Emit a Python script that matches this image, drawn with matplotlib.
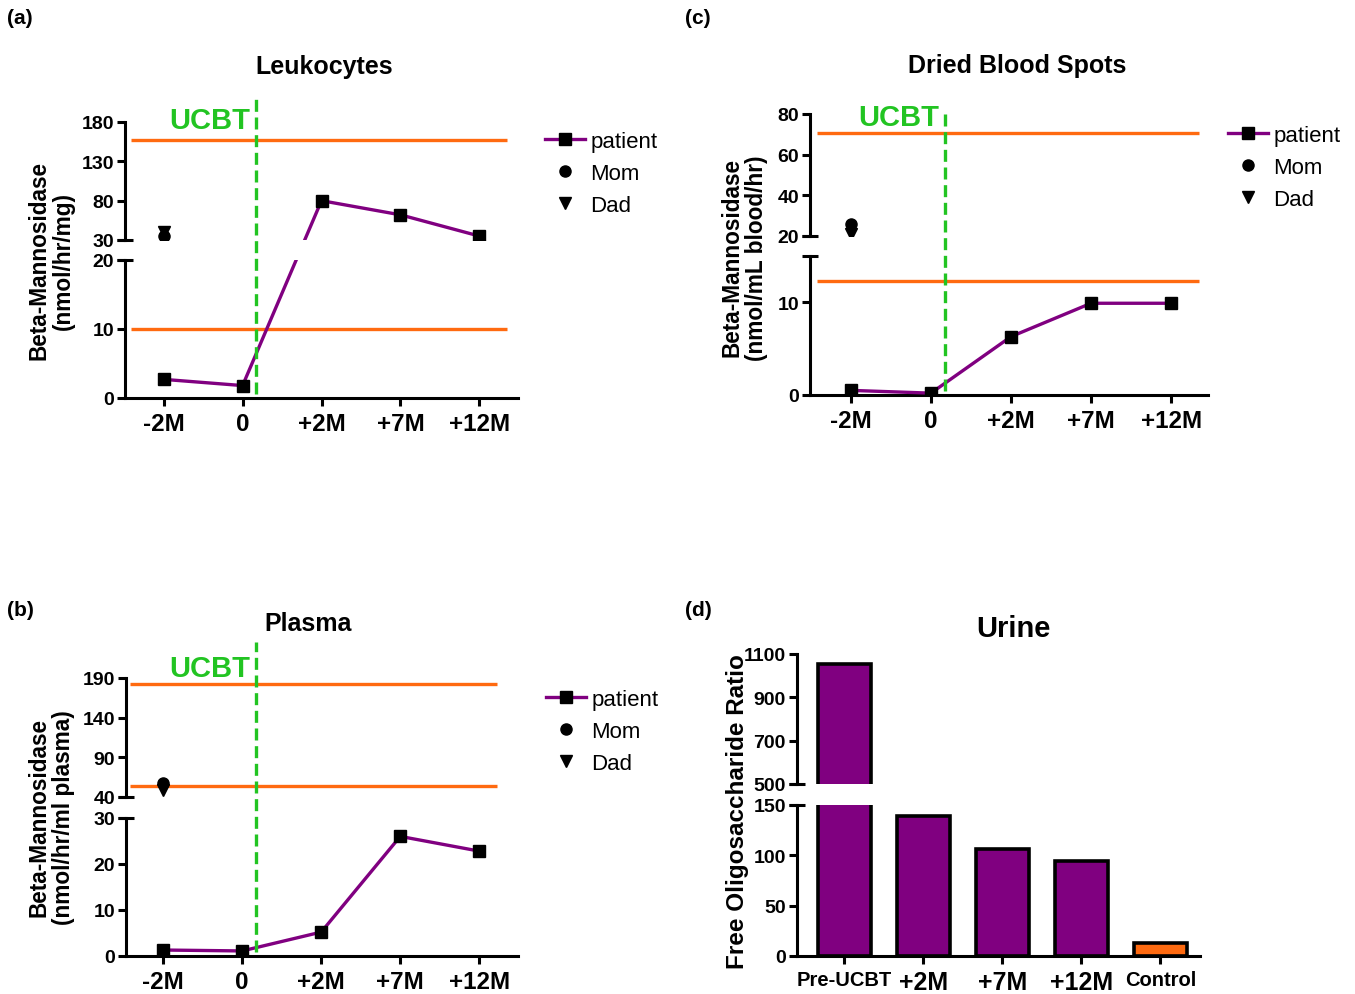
import numpy as np
import matplotlib.pyplot as plt
from matplotlib.lines import Line2D

plt.rcParams['font.family'] = ['Liberation Sans', 'DejaVu Sans']

# data
timepoints = ['-2M', '0', '+2M', '+7M', '+12M']

leuko_patient = [2.7, 1.8, 80, 62, 35]
leuko_mom = 35
leuko_dad = 40
leuko_ref = [10, 157]

dbs_patient = [0.5, 0.2, 6.3, 9.9, 9.9]
dbs_mom = 26
dbs_dad = 21
dbs_ref = [12.3, 70.5]

plasma_patient = [1.3, 1.1, 5.2, 26, 22.8]
plasma_mom = 57.5
plasma_dad = 49
plasma_ref = [54, 182.5]

urine_groups = ['Pre-UCBT', '+2M', '+7M', '+12M', 'Control']
urine_values = [1052, 139, 106, 94, 13]

# transplant sits just after the "0" timepoint (index 1)
ucbt_pos = 1.17

PURPLE = '#800080'
ORANGE = '#ff6a10'
GREEN = '#22c422'

W, H = 1355, 995
fig = plt.figure(figsize=(W / 100, H / 100), dpi=100)


def box(x0, y0, x1, y1):
    return [x0 / W, 1 - y1 / H, (x1 - x0) / W, (y1 - y0) / H]


def style_axes(ax, bottom, xsize=17.5):
    for s in ['top', 'right']:
        ax.spines[s].set_visible(False)
    ax.spines['left'].set_linewidth(2.2)
    ax.spines['bottom'].set_linewidth(2.2)
    ax.tick_params(axis='y', direction='out', length=6, width=2.2, pad=2, labelsize=14)
    for lab in ax.get_yticklabels():
        lab.set_fontweight('bold')
    if bottom:
        ax.tick_params(axis='x', direction='out', length=6, width=2.2, pad=4, labelsize=xsize)
        for lab in ax.get_xticklabels():
            lab.set_fontweight('bold')
    else:
        ax.spines['bottom'].set_visible(False)
        ax.tick_params(axis='x', bottom=False, labelbottom=False)


def break_mark(ax, ypos):
    ax.plot([0], [ypos], marker='_', markersize=11, mew=2.2, color='k',
            transform=ax.transAxes, clip_on=False)


def line_panel(up_box, low_box, up_lim, low_lim, up_ticks, low_ticks,
               patient, mom, dad, ref, xlim, ucbt_top, ucbt_y, ref_span):
    ax_u = fig.add_axes(box(*up_box))
    ax_l = fig.add_axes(box(*low_box))
    x = np.arange(len(timepoints))
    ax_u.set_ylim(*up_lim)
    ax_l.set_ylim(*low_lim)
    for ax in (ax_u, ax_l):
        ax.set_xlim(*xlim)
    patient = np.asarray(patient, dtype=float)
    is_up = patient >= up_lim[0]
    # points of the other segment are placed where they sit on the page,
    # so the line stays straight across the break (GraphPad style)
    pts = np.column_stack([x, patient])
    in_l = ax_l.transData.inverted().transform(ax_u.transData.transform(pts))[:, 1]
    in_u = ax_u.transData.inverted().transform(ax_l.transData.transform(pts))[:, 1]
    y_low = np.where(is_up, in_l, patient)
    y_up = np.where(is_up, patient, in_u)
    for ax, yv in ((ax_u, y_up), (ax_l, y_low)):
        ax.hlines(ref, ref_span[0], ref_span[1], color=ORANGE, lw=2.4, zorder=1)
        ax.plot(x, yv, color=PURPLE, lw=2.4, marker='s', ms=9,
                mfc='k', mec='k', zorder=3)
        ax.plot([x[0]], [dad], marker='v', ms=8, color='k', ls='none', zorder=4)
        ax.plot([x[0]], [mom], marker='o', ms=8, color='k', ls='none', zorder=4)
    ax_u.set_yticks(up_ticks)
    ax_l.set_yticks(low_ticks)
    ax_l.set_xticks(x)
    ax_l.set_xticklabels(timepoints)
    style_axes(ax_u, False)
    style_axes(ax_l, True)
    break_mark(ax_u, 0)
    break_mark(ax_l, 1)
    # UCBT dashed line, runs through the axis break
    ax_l.axvline(ucbt_pos, ymin=0.03, ymax=ucbt_top, color=GREEN, lw=2.4,
                 ls=(0, (3.6, 1.7)), clip_on=False, zorder=5)
    ax_u.text(ucbt_pos - 0.07, ucbt_y, 'UCBT', color=GREEN, fontsize=21,
              fontweight='bold', ha='right', va='center', clip_on=False)
    return ax_u, ax_l


def add_legend(x0, y_top):
    handles = [
        Line2D([], [], color=PURPLE, lw=2.4, marker='s', ms=9, mfc='k', mec='k'),
        Line2D([], [], color='k', marker='o', ms=8, ls='none'),
        Line2D([], [], color='k', marker='v', ms=8, ls='none'),
    ]
    fig.legend(handles, ['patient', 'Mom', 'Dad'], loc='upper left',
               bbox_to_anchor=(x0 / W, 1 - y_top / H), frameon=False,
               fontsize=16, handlelength=1.8, handletextpad=0.25,
               labelspacing=0.5, borderpad=0, borderaxespad=0)


def ylabel(x, y, text, size=16.3):
    fig.text(x / W, 1 - y / H, text, rotation=90, ha='center', va='center',
             fontsize=size, fontweight='bold', multialignment='center',
             linespacing=1.1)


def title(x, y, text, size=18):
    fig.text(x / W, 1 - y / H, text, ha='center', va='center',
             fontsize=size, fontweight='bold')


def panel_label(x, y, text):
    fig.text(x / W, 1 - y / H, text, ha='left', va='center', fontsize=15,
             fontweight='bold')


# (a) Leukocytes
line_panel((125, 123, 518, 241), (125, 261, 518, 399), (30, 180), (0, 20),
           [30, 80, 130, 180], [0, 10, 20], leuko_patient, leuko_mom, leuko_dad,
           leuko_ref, (-0.49, 4.49), (399 - 97) / 138, 183, (-0.42, 4.35))
add_legend(545, 132)
ylabel(51, 261, 'Beta-Mannosidase\n(nmol/hr/mg)')
title(324, 67, 'Leukocytes')
panel_label(7, 18, '(a)')

# (c) Dried Blood Spots
line_panel((810, 115, 1208, 237), (810, 257, 1208, 396), (20, 80), (0, 15),
           [20, 40, 60, 80], [0, 10], dbs_patient, dbs_mom, dbs_dad,
           dbs_ref, (-0.51, 4.46), (396 - 115) / 139, 78.7, (-0.42, 4.35))
add_legend(1228, 126)
ylabel(744, 258, 'Beta-Mannosidase\n(nmol/mL blood/hr)')
title(1017, 66, 'Dried Blood Spots')
panel_label(685, 18, '(c)')

# (b) Plasma
line_panel((126, 679, 518, 798), (126, 819, 518, 957), (40, 190), (0, 30),
           [40, 90, 140, 190], [0, 10, 20, 30], plasma_patient, plasma_mom,
           plasma_dad, plasma_ref, (-0.47, 4.49), (957 - 643) / 138, 203,
           (-0.42, 4.22))
add_legend(546, 690)
ylabel(51, 818, 'Beta-Mannosidase\n(nmol/hr/ml plasma)')
title(308, 624, 'Plasma')
panel_label(7, 610, '(b)')

# (d) Urine
ax_u = fig.add_axes(box(797, 655, 1200, 785))
ax_l = fig.add_axes(box(797, 806, 1200, 957))
xb = np.arange(len(urine_groups))
bar_colors = [PURPLE] * 4 + [ORANGE]
for ax in (ax_u, ax_l):
    ax.bar(xb, urine_values, width=0.68, color=bar_colors, edgecolor='k',
           linewidth=2.6)
    ax.set_xlim(-0.6, 4.5)
ax_u.set_ylim(500, 1100)
ax_l.set_ylim(0, 150)
ax_u.set_yticks([500, 700, 900, 1100])
ax_l.set_yticks([0, 50, 100, 150])
ax_l.set_xticks(xb)
ax_l.set_xticklabels(urine_groups)
style_axes(ax_u, False)
style_axes(ax_l, True, xsize=18)
for lab in ax_l.get_xticklabels():
    if lab.get_text() in ('Pre-UCBT', 'Control'):
        lab.set_fontsize(14.5)
break_mark(ax_u, 0)
break_mark(ax_l, 1)
ylabel(738, 812, 'Free Oligosaccharide Ratio', size=17.5)
title(1013, 629, 'Urine', size=21)
panel_label(685, 610, '(d)')

fig.savefig('out.png', dpi=100)
